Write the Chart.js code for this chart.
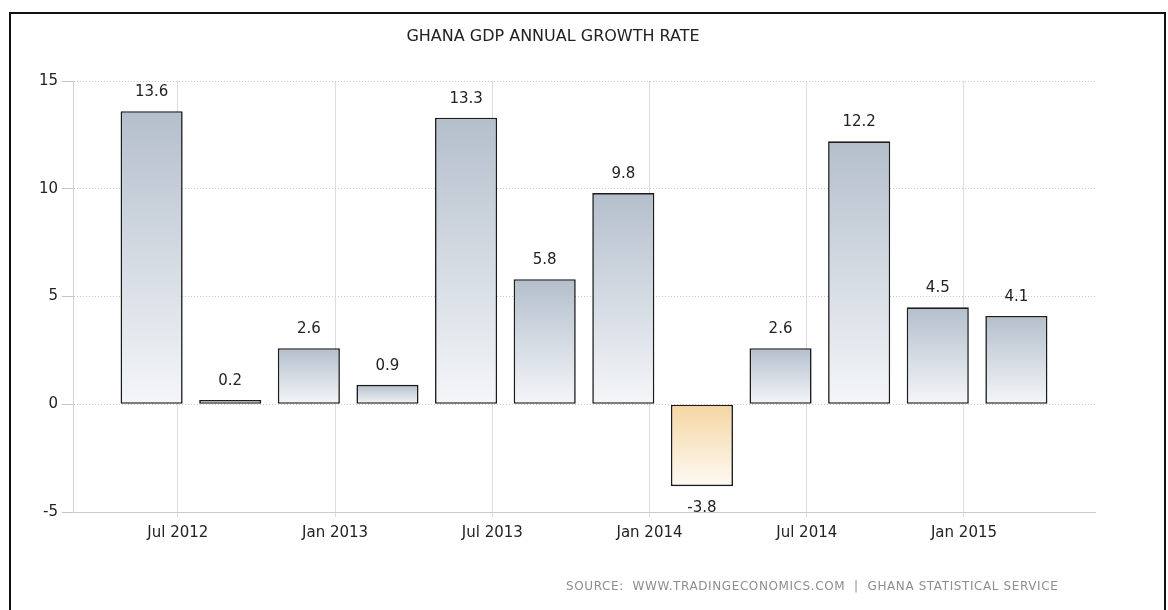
<!DOCTYPE html>
<html>
<head>
<meta charset="utf-8">
<script src="https://cdn.jsdelivr.net/npm/chart.js@4.4.1/dist/chart.umd.min.js"></script>
<style>
  html, body { margin: 0; padding: 0; background: #fff; overflow: hidden; }
  #wrap { width: 1168px; height: 610px; }
</style>
</head>
<body>
<div id="wrap"><canvas id="chart" width="1168" height="610"></canvas></div>
<script>
// Quarterly GDP growth (year on year, %), plotted at the last month of each quarter
const quarterEnds = ['2012-06', '2012-09', '2012-12', '2013-03', '2013-06', '2013-09',
                     '2013-12', '2014-03', '2014-06', '2014-09', '2014-12', '2015-03'];
const growth = [13.6, 0.2, 2.6, 0.9, 13.3, 5.8, 9.8, -3.8, 2.6, 12.2, 4.5, 4.1];

// Date axis ticks
const tickMonths = ['2012-07', '2013-01', '2013-07', '2014-01', '2014-07', '2015-01'];
const tickLabels = ['Jul 2012', 'Jan 2013', 'Jul 2013', 'Jan 2014', 'Jul 2014', 'Jan 2015'];

// Value axis
const yMin = -5, yMax = 15, yStep = 5;

const titleText = 'GHANA GDP ANNUAL GROWTH RATE';
const sourceText = 'SOURCE:  WWW.TRADINGECONOMICS.COM  |  GHANA STATISTICAL SERVICE';

const FONT = '"DejaVu Sans", sans-serif';
const INK = '#222222';

// months counted from Jan 2012
function monthIndex(s) {
  const [y, m] = s.split('-').map(Number);
  return (y - 2012) * 12 + (m - 1);
}
const xs = quarterEnds.map(monthIndex);
const xMin = xs[0] - 3, xMax = xs[xs.length - 1] + 3;

// vertical gradient per bar: blue-grey for gains, pale orange for the contraction
function barFill(ctx) {
  const chart = ctx.chart;
  if (!chart.chartArea || ctx.type !== 'data') return '#cfd6df';
  const v = ctx.parsed.y;
  const ys = chart.scales.y;
  const top = ys.getPixelForValue(Math.max(v, 0));
  const bot = ys.getPixelForValue(Math.min(v, 0));
  const g = chart.ctx.createLinearGradient(0, top, 0, bot + 0.01);
  if (v >= 0) {
    g.addColorStop(0, '#b4bfcc');
    g.addColorStop(1, '#f4f6f9');
  } else {
    g.addColorStop(0, '#f5d6a2');
    g.addColorStop(1, '#fdfaf4');
  }
  return g;
}

const decor = {
  id: 'decor',
  beforeDraw(chart) {
    const c = chart.ctx;
    c.save();
    c.fillStyle = '#fff';
    c.fillRect(0, 0, chart.width, chart.height);
    // frame
    c.strokeStyle = '#111';
    c.lineWidth = 2;
    c.strokeRect(10, 13, 1155, 640);
    // title
    c.fillStyle = INK;
    c.font = '16px ' + FONT;
    c.textAlign = 'center';
    c.textBaseline = 'middle';
    c.fillText(titleText, 553, 37);
    // source line, spread to its box
    c.font = '12px ' + FONT;
    c.fillStyle = '#8e8e8e';
    c.textAlign = 'left';
    const target = 492;
    const natural = c.measureText(sourceText).width;
    if ('letterSpacing' in c) {
      c.letterSpacing = ((target - natural) / (sourceText.length - 1)).toFixed(2) + 'px';
    }
    c.fillText(sourceText, 566, 587);
    c.restore();
  },
  afterDatasetsDraw(chart) {
    const c = chart.ctx;
    const meta = chart.getDatasetMeta(0);
    c.save();
    c.font = '15px ' + FONT;
    c.fillStyle = INK;
    c.textAlign = 'center';
    c.textBaseline = 'middle';
    meta.data.forEach((el, i) => {
      const v = growth[i];
      const y = v >= 0 ? el.y - 19 : el.y + 22;
      c.fillText(v.toFixed(1), el.x, y);
    });
    c.restore();
  }
};

new Chart(document.getElementById('chart'), {
  type: 'bar',
  data: {
    datasets: [{
      data: xs.map((x, i) => ({ x: x, y: growth[i] })),
      backgroundColor: barFill,
      borderColor: '#1c1c1c',
      borderWidth: 1.6,
      borderSkipped: false,
      barPercentage: 0.79,
      categoryPercentage: 1
    }]
  },
  options: {
    responsive: false,
    animation: false,
    events: [],
    layout: { padding: { left: 9, right: 73, top: 81, bottom: 58 } },
    plugins: {
      legend: { display: false },
      tooltip: { enabled: false },
      title: { display: false }
    },
    scales: {
      x: {
        type: 'linear',
        offset: false,
        min: xMin,
        max: xMax,
        afterBuildTicks: s => { s.ticks = tickMonths.map(m => ({ value: monthIndex(m) })); },
        afterFit: s => { s.height = 40; },
        ticks: {
          autoSkip: false,
          maxRotation: 0,
          padding: 7,
          color: INK,
          font: { family: FONT, size: 15 },
          callback: (v, i) => tickLabels[i]
        },
        grid: { offset: false, color: '#dddddd', lineWidth: 1, tickLength: 5, drawTicks: true },
        border: { color: '#cccccc', width: 1 }
      },
      y: {
        min: yMin,
        max: yMax,
        afterFit: s => { s.width = 64; },
        ticks: {
          stepSize: yStep,
          padding: 4,
          color: INK,
          font: { family: FONT, size: 15 }
        },
        grid: { color: '#c9c9c9', lineWidth: 1, tickLength: 11, tickColor: '#c4c4c4', tickBorderDash: [] },
        border: { color: '#d2d2d2', width: 1, dash: [1, 2] }
      }
    }
  },
  plugins: [decor]
});
</script>
</body>
</html>
